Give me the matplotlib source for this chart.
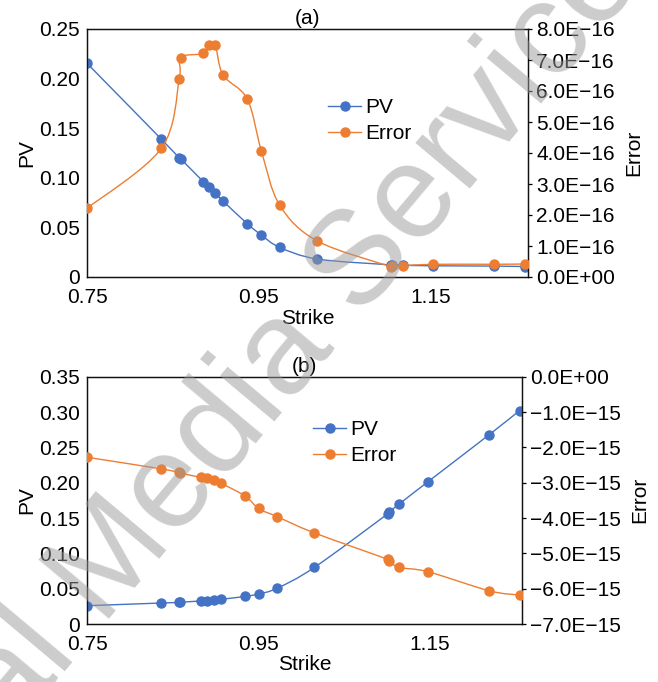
import matplotlib
matplotlib.use("Agg")
import matplotlib.pyplot as plt
from matplotlib.lines import Line2D
from matplotlib.patches import PathPatch
from matplotlib.path import Path
import numpy as np

# ---- panel (a) ----
strike_a = [0.75, 0.8366, 0.8575, 0.859, 0.8856, 0.8926, 0.8996, 0.9085, 0.9368,
            0.9532, 0.9745, 1.0185, 1.1045, 1.106, 1.1183, 1.1533, 1.2239, 1.2609]
pv_a = [0.2154, 0.139, 0.1200, 0.1193, 0.096, 0.0904, 0.0843, 0.0766, 0.0537,
        0.0423, 0.0299, 0.0181, 0.0122, 0.0121, 0.0118, 0.0113, 0.0110, 0.0105]
err_a = [2.215e-16, 4.15e-16, 6.38e-16, 7.08e-16, 7.21e-16, 7.48e-16, 7.48e-16, 6.52e-16,
         5.74e-16, 4.07e-16, 2.32e-16, 1.16e-16, 0.33e-16, 0.35e-16, 0.365e-16,
         0.41e-16, 0.41e-16, 0.42e-16]

# ---- panel (b) ----
strike_b = [0.75, 0.8368, 0.857, 0.859, 0.8836, 0.8902, 0.898, 0.907, 0.935,
            0.9505, 0.972, 1.0156, 1.1015, 1.1035, 1.115, 1.1485, 1.2201, 1.2555]
pv_b = [0.0259, 0.0297, 0.0305, 0.0308, 0.0326, 0.033, 0.0335, 0.035, 0.039,
        0.0425, 0.0505, 0.080, 0.156, 0.159, 0.170, 0.2014, 0.268, 0.302]
err_b = [-2.28e-15, -2.61e-15, -2.71e-15, -2.73e-15, -2.85e-15, -2.86e-15, -2.92e-15,
         -3.02e-15, -3.38e-15, -3.73e-15, -3.96e-15, -4.42e-15, -5.17e-15, -5.22e-15,
         -5.40e-15, -5.52e-15, -6.06e-15, -6.18e-15]

x_ticks = [0.75, 0.95, 1.15]
x_ticklabels = ["0.75", "0.95", "1.15"]
pv_ticks_a = [0, 0.05, 0.10, 0.15, 0.20, 0.25]
pv_ticklabels_a = ["0", "0.05", "0.10", "0.15", "0.20", "0.25"]
err_ticks_a = [i * 1e-16 for i in range(9)]
err_ticklabels_a = ["0.0E+00"] + [f"{i}.0E\u221216" for i in range(1, 9)]
pv_ticks_b = [0, 0.05, 0.10, 0.15, 0.20, 0.25, 0.30, 0.35]
pv_ticklabels_b = ["0", "0.05", "0.10", "0.15", "0.20", "0.25", "0.30", "0.35"]
err_ticks_b = [-i * 1e-15 for i in range(8)]
err_ticklabels_b = ["0.0E+00"] + [f"\u2212{i}.0E\u221215" for i in range(1, 8)]

BLUE = "#4472C4"
ORANGE = "#ED7D31"
FS = 15

plt.rcParams["font.family"] = ["Liberation Sans", "DejaVu Sans"]
plt.rcParams["font.size"] = FS


def smooth_line(ax, x, y, color):
    """Excel-like smoothed line: Catmull-Rom segments as cubic Beziers."""
    pts = np.column_stack([x, y]).astype(float)
    n = len(pts)
    verts = [pts[0]]
    codes = [Path.MOVETO]
    for i in range(n - 1):
        p0 = pts[i - 1] if i > 0 else pts[i]
        p1, p2 = pts[i], pts[i + 1]
        p3 = pts[i + 2] if i + 2 < n else pts[i + 1]
        verts += [p1 + (p2 - p0) / 6, p2 - (p3 - p1) / 6, p2]
        codes += [Path.CURVE4] * 3
    ax.add_patch(PathPatch(Path(verts, codes), fill=False, edgecolor=color,
                           lw=1.0, zorder=2))
    ax.plot(x, y, ls="none", marker="o", ms=6.5, color=color, zorder=3)


def panel(rect, strike, pv, err, xmax, pv_ticks, pv_labels, err_ticks, err_labels,
          title, leg_xy):
    ax = fig.add_axes(rect)
    ax2 = ax.twinx()
    smooth_line(ax, strike, pv, BLUE)
    smooth_line(ax2, strike, err, ORANGE)

    ax.set_xlim(0.75, xmax)
    ax.set_ylim(pv_ticks[0], pv_ticks[-1])
    ax2.set_ylim(min(err_ticks), max(err_ticks))
    ax.set_xticks(x_ticks, x_ticklabels)
    ax.set_yticks(pv_ticks, pv_labels)
    ax2.set_yticks(err_ticks, err_labels)

    ax.tick_params(axis="both", length=0)
    ax.tick_params(axis="x", pad=8)
    ax.tick_params(axis="y", pad=5)
    ax2.tick_params(axis="y", length=3, width=0.9, pad=3)
    for a in (ax, ax2):
        for s in a.spines.values():
            s.set_linewidth(0.9)
            s.set_color("#111111")

    ax.set_xlabel("Strike", labelpad=1)
    ax.set_ylabel("PV", labelpad=2)
    ax2.set_ylabel("Error", labelpad=7)
    ax.set_title(title, fontsize=FS, pad=3.5)

    handles = [Line2D([], [], color=BLUE, lw=1.0, marker="o", ms=6.5),
               Line2D([], [], color=ORANGE, lw=1.0, marker="o", ms=6.5)]
    ax2.legend(handles, ["PV", "Error"], loc="upper left", bbox_to_anchor=leg_xy,
               bbox_transform=fig.transFigure, frameon=False, borderpad=0,
               borderaxespad=0, handlelength=1.6, handletextpad=0.2,
               labelspacing=0.35, fontsize=FS)


fig = plt.figure(figsize=(6.58, 6.82), dpi=100)

panel([87 / 658, 1 - 277 / 682, 440.7 / 658, 248 / 682], strike_a, pv_a, err_a, 1.2636,
      pv_ticks_a, pv_ticklabels_a, err_ticks_a, err_ticklabels_a, "(a)",
      (328 / 658, 1 - 98 / 682))
panel([87 / 658, 1 - 624 / 682, 434.7 / 658, 247.3 / 682], strike_b, pv_b, err_b, 1.258,
      pv_ticks_b, pv_ticklabels_b, err_ticks_b, err_ticklabels_b, "(b)",
      (313 / 658, 1 - 420 / 682))

# publisher watermark, runs off the page like in the source
fig.text(0.362, 0.397, "Digital Media Services", rotation=50, rotation_mode="anchor",
         ha="center", va="center", fontsize=96, color="#9a9a9a", alpha=0.5, zorder=10)

fig.savefig("out.png", dpi=100)
